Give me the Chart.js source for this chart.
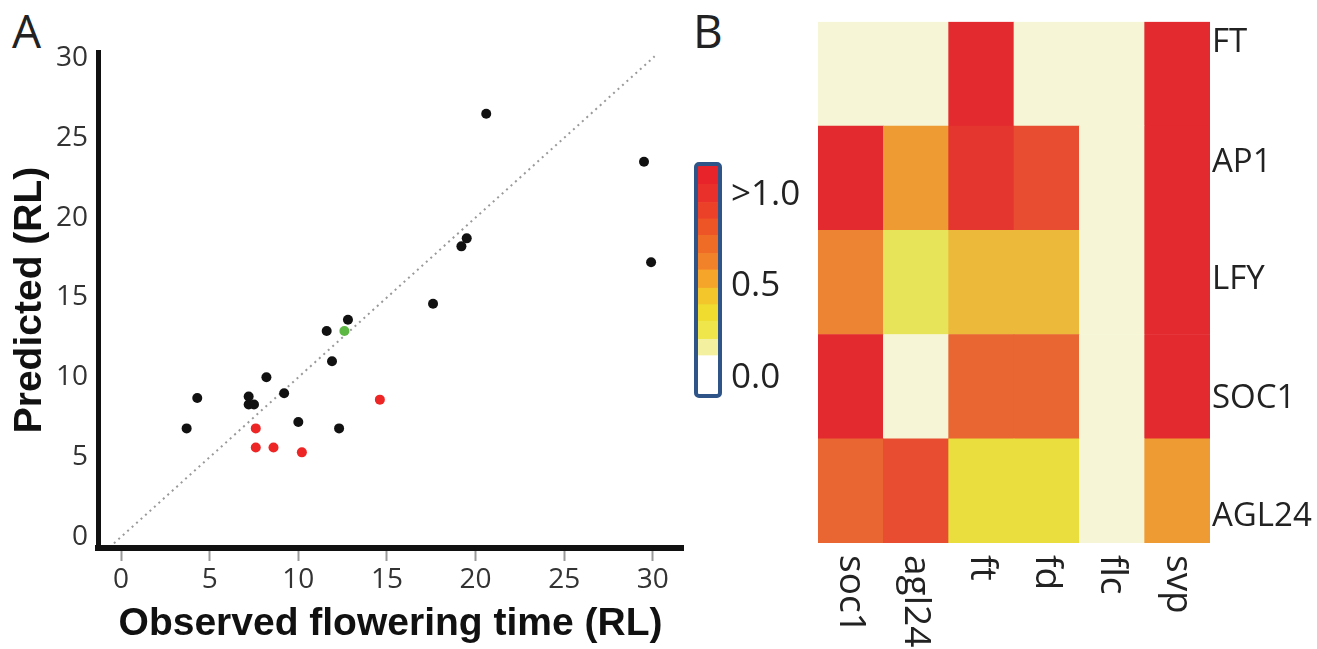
<!DOCTYPE html>
<html>
<head>
<meta charset="utf-8">
<script src="https://cdn.jsdelivr.net/npm/chart.js@4.4.0/dist/chart.umd.min.js"></script>
<style>
body { margin: 0; background: #fff; width: 1317px; height: 649px; overflow: hidden; position: relative; font-family: "Open Sans", sans-serif; }
canvas { position: absolute; }
.panel { position: absolute; font-size: 46px; line-height: 1; color: #222; }
</style>
</head>
<body>
<div class="panel" style="left:12px;top:7px">A</div>
<div class="panel" style="left:693px;top:7px">B</div>
<canvas id="scatter" width="700" height="649" style="left:0;top:0"></canvas>
<canvas id="heat" width="517" height="649" style="left:800px;top:0"></canvas>
<canvas id="bar" width="140" height="280" style="left:680px;top:140px"></canvas>
<script>
// panel A data (rosette leaves)
var blackX = [20.6, 29.5, 29.9, 19.5, 19.2, 17.6, 12.8, 11.6, 11.9, 8.2, 4.3, 7.2, 7.2, 7.5, 9.2, 3.7, 10.0, 12.3];
var blackY = [26.5, 23.5, 17.2, 18.7, 18.2, 14.6, 13.6, 12.9, 11.0, 10.0, 8.7, 8.8, 8.3, 8.3, 9.0, 6.8, 7.2, 6.8];
var redX = [14.6, 7.6, 7.6, 8.6, 10.2];
var redY = [8.6, 6.8, 5.6, 5.6, 5.3];
var greenX = [12.6];
var greenY = [12.9];
var refLine = [-0.4, 30.1];
var xTicks = [0, 5, 10, 15, 20, 25, 30];
var yTicks = [0, 5, 10, 15, 20, 25, 30];

// panel B data
var heatCols = ['soc1', 'agl24', 'ft', 'fd', 'flc', 'svp'];
var heatRows = ['FT', 'AP1', 'LFY', 'SOC1', 'AGL24'];
var rowLabelPos = [4.8, 3.65, 2.53, 1.39, 0.25];
var ftVals = [0, 0, 1, 0, 0, 1];
var ap1Vals = [1, 0.65, 0.95, 0.9, 0, 1];
var lfyVals = [0.7, 0.3, 0.55, 0.55, 0, 1];
var soc1Vals = [1, 0, 0.8, 0.8, 0, 1];
var agl24Vals = [0.8, 0.9, 0.4, 0.4, 0, 0.65];
var heatVals = [ftVals, ap1Vals, lfyVals, soc1Vals, agl24Vals];

// colour key
var keyEdges = [-0.09, 0.12, 0.21, 0.31, 0.40, 0.49, 0.59, 0.68, 0.78, 0.87, 0.96, 1.06, 1.16];
var keyColors = ['#ffffff', '#f3f0a0', '#eee64a', '#efdc2e', '#f3c62c', '#f5a62a', '#f28229', '#ef6c27', '#ed5526', '#eb4128', '#e9302a', '#e8232a'];
var keyTicks = [0, 0.5, 1.0];
var keyLabels = ['0.0', '0.5', '>1.0'];

var heatStops = [[0, '#f6f6d6'], [0.3, '#e8e45a'], [0.4, '#e9de3d'], [0.55, '#ecb93a'], [0.65, '#ee9b33'],
  [0.7, '#ec8433'], [0.8, '#e96532'], [0.9, '#e84c31'], [0.95, '#e4352e'], [1.0, '#e32a2f']];

function hexToRgb(h) {
  return [parseInt(h.substr(1, 2), 16), parseInt(h.substr(3, 2), 16), parseInt(h.substr(5, 2), 16)];
}
function heatColor(v) {
  for (var i = 1; i < heatStops.length; i++) {
    if (v <= heatStops[i][0]) {
      var a = heatStops[i - 1], b = heatStops[i];
      var t = (v - a[0]) / (b[0] - a[0]);
      var ca = hexToRgb(a[1]), cb = hexToRgb(b[1]);
      return 'rgb(' + ca.map(function(c, k) { return Math.round(c + (cb[k] - c) * t); }).join(',') + ')';
    }
  }
  return heatStops[heatStops.length - 1][1];
}
function pts(xs, ys) {
  return xs.map(function(x, i) { return {x: x, y: ys[i]}; });
}

var tickFont = {family: 'Open Sans', size: 28};
var titleFont = {family: 'Liberation Sans', size: 39, weight: 'bold'};

new Chart(document.getElementById('scatter'), {
  type: 'scatter',
  data: {
    datasets: [
      {data: pts(blackX, blackY), backgroundColor: '#111', pointRadius: 5, pointBorderWidth: 0},
      {data: pts(redX, redY), backgroundColor: '#ee2525', pointRadius: 5, pointBorderWidth: 0},
      {data: pts(greenX, greenY), backgroundColor: '#5db843', pointRadius: 5, pointBorderWidth: 0},
      {data: pts(refLine, refLine), showLine: true, borderColor: '#999', borderWidth: 2, borderDash: [2, 4], pointRadius: 0}
    ]
  },
  options: {
    responsive: false,
    animation: false,
    layout: {padding: {left: 0, right: 17, top: 52, bottom: 0}},
    plugins: {legend: {display: false}, tooltip: {enabled: false}},
    scales: {
      x: {
        type: 'linear', min: -1.3, max: 31.7,
        afterBuildTicks: function(s) { s.ticks = xTicks.map(function(v) { return {value: v}; }); },
        afterFit: function(s) { s.height = 101; },
        grid: {drawOnChartArea: false, drawTicks: true, tickLength: 13, tickColor: '#999', tickWidth: 2},
        border: {display: true, color: '#111', width: 6},
        ticks: {font: tickFont, color: '#333', padding: 2},
        title: {display: true, text: 'Observed flowering time (RL)', font: titleFont, color: '#111', padding: {top: 0, bottom: 1}}
      },
      y: {
        type: 'linear', min: -0.69, max: 30.37,
        afterBuildTicks: function(s) { s.ticks = yTicks.map(function(v) { return {value: v}; }); },
        afterFit: function(s) { s.width = 98; },
        grid: {drawOnChartArea: false, drawTicks: false},
        border: {display: true, color: '#111', width: 5},
        ticks: {font: tickFont, color: '#333', padding: 10},
        title: {display: true, text: 'Predicted (RL)', font: titleFont, color: '#111', padding: {top: 7, bottom: 0}}
      }
    }
  }
});

// heatmap: stacked cells, bottom row first
var heatSets = heatRows.slice().reverse().map(function(name, r) {
  var vals = heatVals[heatRows.length - 1 - r];
  return {
    label: name,
    data: vals.map(function() { return 1; }),
    backgroundColor: vals.map(heatColor),
    borderWidth: 0,
    barPercentage: 1,
    categoryPercentage: 1
  };
});

var columnLabels = {
  id: 'columnLabels',
  afterDraw: function(chart) {
    var ctx = chart.ctx, xs = chart.scales.x;
    ctx.save();
    ctx.font = '37px "Open Sans"';
    ctx.fillStyle = '#222';
    ctx.textAlign = 'left';
    ctx.textBaseline = 'middle';
    heatCols.forEach(function(name, i) {
      ctx.save();
      ctx.translate(xs.getPixelForValue(i), chart.chartArea.bottom + 12);
      ctx.rotate(Math.PI / 2);
      ctx.fillText(name, 0, 0);
      ctx.restore();
    });
    ctx.restore();
  }
};

new Chart(document.getElementById('heat'), {
  type: 'bar',
  data: {labels: heatCols, datasets: heatSets},
  options: {
    responsive: false,
    animation: false,
    layout: {padding: {left: 18, top: 12, right: 0, bottom: 0}},
    plugins: {legend: {display: false}, tooltip: {enabled: false}},
    scales: {
      x: {
        stacked: true,
        afterFit: function(s) { s.height = 106; },
        grid: {display: false}, border: {display: false},
        ticks: {display: false}
      },
      y: {
        stacked: true, position: 'right', min: 0, max: 5,
        afterBuildTicks: function(s) { s.ticks = rowLabelPos.map(function(v) { return {value: v}; }); },
        afterFit: function(s) { s.width = 107; },
        grid: {drawOnChartArea: false, drawTicks: false}, border: {display: false},
        ticks: {
          font: {family: 'Open Sans', size: 33}, color: '#222', padding: 2,
          callback: function(v, i) { return heatRows[i]; }
        }
      }
    }
  },
  plugins: [columnLabels]
});

// colour key
var keyFrame = {
  id: 'keyFrame',
  afterDatasetsDraw: function(chart) {
    var a = chart.chartArea, ctx = chart.ctx;
    ctx.save();
    ctx.strokeStyle = '#2e5488';
    ctx.lineWidth = 4;
    ctx.beginPath();
    ctx.roundRect(a.left - 2, a.top - 2, a.right - a.left + 4, a.bottom - a.top + 4, 3);
    ctx.stroke();
    ctx.restore();
  }
};

new Chart(document.getElementById('bar'), {
  type: 'bar',
  data: {
    labels: ['key'],
    datasets: keyColors.map(function(c, i) {
      return {data: [[keyEdges[i], keyEdges[i + 1]]], backgroundColor: c, borderWidth: 0, barPercentage: 1, categoryPercentage: 1};
    })
  },
  options: {
    responsive: false,
    animation: false,
    layout: {padding: {left: 18, top: 19, right: 0, bottom: 25}},
    plugins: {legend: {display: false}, tooltip: {enabled: false}},
    scales: {
      x: {display: false, stacked: true},
      y: {
        position: 'right', min: keyEdges[0], max: keyEdges[keyEdges.length - 1],
        afterBuildTicks: function(s) { s.ticks = keyTicks.map(function(v) { return {value: v}; }); },
        afterFit: function(s) { s.width = 102; },
        grid: {display: false}, border: {display: false},
        ticks: {
          font: {family: 'Open Sans', size: 35}, color: '#222', padding: 5,
          callback: function(v, i) { return keyLabels[i]; }
        }
      }
    }
  },
  plugins: [keyFrame]
});
</script>
</body>
</html>
